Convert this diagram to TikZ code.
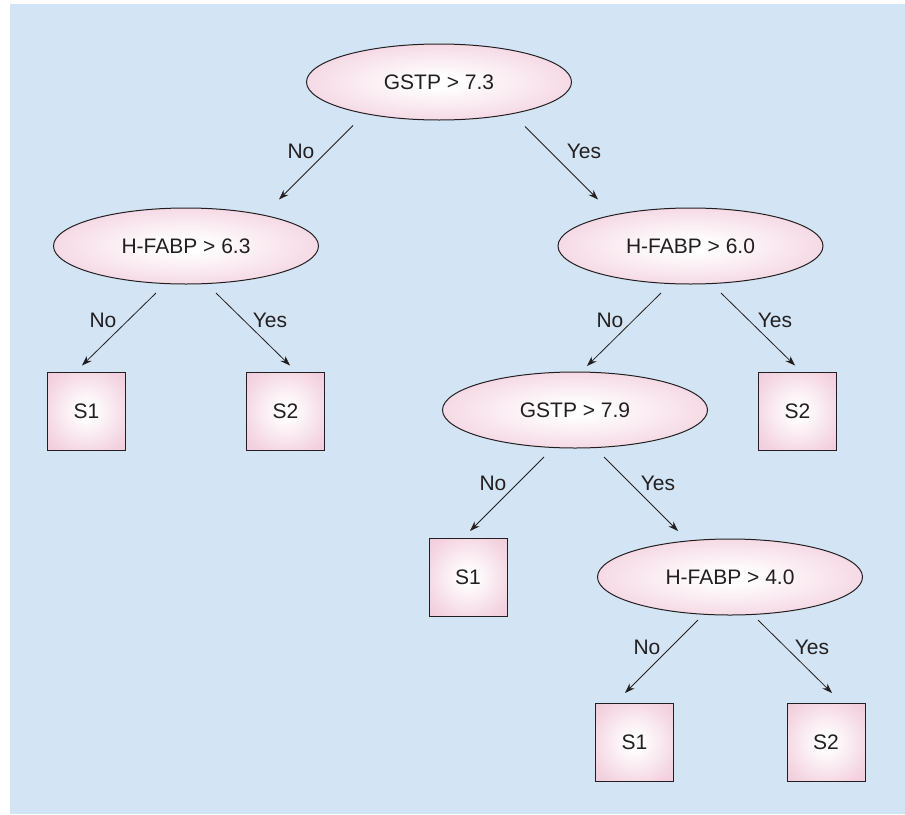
\documentclass[tikz,border=0pt]{standalone}
\usepackage{fontspec}
\setmainfont{Liberation Sans}
\usetikzlibrary{arrows.meta,shapes.geometric}
\definecolor{bgblue}{RGB}{211,229,244}
\definecolor{pinkc}{RGB}{236,184,206}
\definecolor{inkc}{RGB}{35,31,32}
\pgfdeclareradialshading{pinkball}{\pgfpoint{0bp}{0bp}}{color(0bp)=(white); color(4bp)=(white); color(28bp)=(pinkc!60!white); color(50bp)=(pinkc); color(72bp)=(pinkc)}
\tikzset{
  dec/.style={ellipse, draw=inkc, line width=1pt, shading=pinkball,
    minimum width=265pt, minimum height=76pt, inner sep=0pt,
    font=\fontsize{21}{25}\selectfont, text=inkc},
  leaf/.style={rectangle, draw=inkc, line width=1pt, shading=pinkball,
    minimum width=78pt, minimum height=78pt, inner sep=0pt,
    font=\fontsize{21}{25}\selectfont, text=inkc},
  lbl/.style={font=\fontsize{21}{25}\selectfont, text=inkc, inner sep=0pt},
  arr/.style={draw=inkc, line width=0.8pt, -{Stealth[length=10pt,width=7pt]}}
}
\begin{document}
\begin{tikzpicture}[x=1pt,y=-1pt]
\useasboundingbox (0,0) rectangle (905,814);
\fill[bgblue] (10,4) rectangle (905,814);
\node[dec] (e1) at (439,82) {GSTP > 7.3};
\node[dec] (e2) at (186,246) {H-FABP > 6.3};
\node[dec] (e3) at (690.5,246) {H-FABP > 6.0};
\node[leaf] (b1) at (86.5,411) {S1};
\node[leaf] (b2) at (285.5,411) {S2};
\node[dec] (e4) at (575,410) {GSTP > 7.9};
\node[leaf] (b3) at (797.5,411) {S2};
\node[leaf] (b4) at (468,577) {S1};
\node[dec] (e5) at (730,577) {H-FABP > 4.0};
\node[leaf] (b5) at (634.5,742.5) {S1};
\node[leaf] (b6) at (826,742.5) {S2};

\draw[arr] ([shift={(-86,5)}]e1.south) -- ([shift={(93,-8)}]e2.north);
\draw[arr] ([shift={(86,6)}]e1.south) -- ([shift={(-92.5,-8)}]e3.north);
\draw[arr] ([shift={(-30,8.5)}]e2.south) -- ([shift={(-4.5,-6)}]b1.north);
\draw[arr] ([shift={(30,8.5)}]e2.south) -- ([shift={(4.5,-6)}]b2.north);
\draw[arr] ([shift={(-29.5,8.5)}]e3.south) -- ([shift={(12,-5.5)}]e4.north);
\draw[arr] ([shift={(30.5,8.5)}]e3.south) -- ([shift={(-2.5,-6)}]b3.north);
\draw[arr] ([shift={(-31,8.5)}]e4.south) -- ([shift={(2,-6.5)}]b4.north);
\draw[arr] ([shift={(29,8.5)}]e4.south) -- ([shift={(-52,-7.5)}]e5.north);
\draw[arr] ([shift={(-32,4.5)}]e5.south) -- ([shift={(-9.5,-10)}]b5.north);
\draw[arr] ([shift={(28,4.5)}]e5.south) -- ([shift={(6,-10)}]b6.north);

\node[lbl] (l1) at (301,151) {No};
\node[lbl] (l2) at (584,151) {Yes};
\node[lbl] (l3) at (103,320) {No};
\node[lbl] (l4) at (270,320) {Yes};
\node[lbl] (l5) at (610,320) {No};
\node[lbl] (l6) at (775,320) {Yes};
\node[lbl] (l7) at (493,483) {No};
\node[lbl] (l8) at (658,483) {Yes};
\node[lbl] (l9) at (647,647) {No};
\node[lbl] (l10) at (812,647) {Yes};
\end{tikzpicture}
\end{document}
